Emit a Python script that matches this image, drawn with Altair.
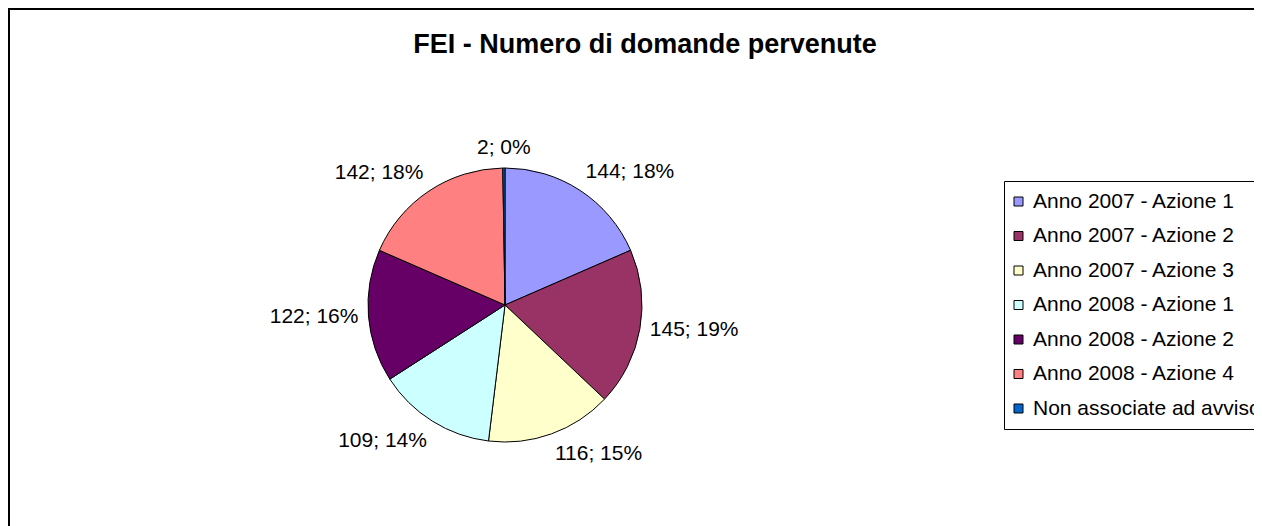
import altair as alt
import pandas as pd

title_text = "FEI - Numero di domande pervenute"
categories = [
    "Anno 2007 - Azione 1",
    "Anno 2007 - Azione 2",
    "Anno 2007 - Azione 3",
    "Anno 2008 - Azione 1",
    "Anno 2008 - Azione 2",
    "Anno 2008 - Azione 4",
    "Non associate ad avviso",
]
values = [144, 145, 116, 109, 122, 142, 2]
colors = ["#9999FF", "#993366", "#FFFFCC", "#CCFFFF", "#660066", "#FF8080", "#0066CC"]

FONT = "Liberation Sans"

df = pd.DataFrame({"cat": categories, "value": values, "idx": list(range(len(values)))})

base = alt.Chart(df).transform_joinaggregate(
    total="sum(value)"
).transform_window(
    cum="sum(value)", sort=[alt.SortField("idx")]
).transform_calculate(
    mid="(datum.cum - datum.value / 2) / datum.total * 2 * PI",
    label="datum.value + '; ' + round(datum.value / datum.total * 100) + '%'",
).transform_calculate(
    al="abs(sin(datum.mid)) < 0.26 ? 'center' : (sin(datum.mid) > 0 ? 'left' : 'right')",
    bl="cos(datum.mid) > 0.5 ? 'bottom' : (cos(datum.mid) < -0.5 ? 'top' : 'middle')",
)

CX, CY, R = 497, 297, 137

pie = base.mark_arc(stroke="black", strokeWidth=1, outerRadius=R).encode(
    theta=alt.Theta("value:Q", stack=True),
    order=alt.Order("idx:Q"),
    color=alt.Color(
        "cat:N",
        sort=categories,
        scale=alt.Scale(domain=categories, range=colors),
        legend=alt.Legend(
            title=None,
            orient="none",
            legendX=996,
            legendY=173,
        ),
    ),
    x=alt.value(CX),
    y=alt.value(CY),
)

layers = [pie]
for a in ["left", "center", "right"]:
    for b in ["top", "middle", "bottom"]:
        t = base.mark_text(
            radius=147, align=a, baseline=b, font=FONT, fontSize=21, color="black"
        ).encode(
            theta=alt.Theta("value:Q", stack=True),
            order=alt.Order("idx:Q"),
            text=alt.condition(
                f"datum.al == '{a}' && datum.bl == '{b}'",
                alt.Text("label:N"),
                alt.value(""),
            ),
            x=alt.value(CX),
            y=alt.value(CY),
        )
        layers.append(t)

frame = alt.Chart(pd.DataFrame({"f": [0]})).mark_rect(
    fill="white", stroke="black", strokeWidth=2
).encode(
    x=alt.value(1), y=alt.value(1), x2=alt.value(1500), y2=alt.value(800)
)

title = alt.Chart(pd.DataFrame({"t": [title_text]})).mark_text(
    font=FONT, fontSize=27, fontWeight="bold", color="black", align="center", baseline="alphabetic"
).encode(text="t:N", x=alt.value(637), y=alt.value(45))

chart = alt.layer(frame, title, *layers).properties(
    width=1246,
    height=518,
    padding=0,
    autosize=alt.AutoSizeParams(type="none"),
).configure_view(
    stroke=None
).configure_legend(
    strokeColor="black",
    fillColor="white",
    padding=10,
    rowPadding=12.5,
    symbolType="square",
    symbolSize=81,
    symbolOffset=-6,
    symbolStrokeColor="black",
    symbolStrokeWidth=1,
    symbolOpacity=1,
    labelFont=FONT,
    labelFontSize=21,
    labelColor="black",
    labelLimit=1000,
    labelOffset=4,
)

chart.save("out.html", embed_options={"renderer": "svg", "actions": False})
